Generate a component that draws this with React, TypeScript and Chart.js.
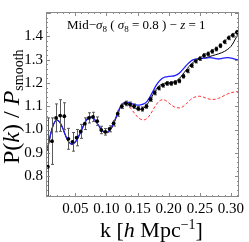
import React, { useEffect, useRef } from "react";
import { Chart, registerables } from "chart.js";

Chart.register(...registerables);

// ---- data ----
const K_CURVE = [
  0.005, 0.010, 0.015, 0.020, 0.025, 0.030, 0.035, 0.040, 0.045, 0.050,
  0.055, 0.060, 0.065, 0.070, 0.075, 0.080, 0.085, 0.090, 0.095, 0.100,
  0.105, 0.110, 0.115, 0.120, 0.125, 0.130, 0.135, 0.140, 0.145, 0.150,
  0.155, 0.160, 0.165, 0.170, 0.175, 0.180, 0.185, 0.190, 0.195, 0.200,
  0.205, 0.210, 0.215, 0.220, 0.225, 0.230, 0.235, 0.240, 0.245, 0.250,
  0.255, 0.260, 0.265, 0.270, 0.275, 0.280, 0.285, 0.290, 0.295, 0.300,
  0.305, 0.310, 0.313,
];

const BLUE = [
  0.91, 0.975, 1.022, 1.04, 1.032, 1.005, 0.97, 0.945, 0.937, 0.946,
  0.968, 0.997, 1.027, 1.047, 1.053, 1.046, 1.028, 1.007, 0.992, 0.988,
  0.996, 1.018, 1.05, 1.085, 1.108, 1.118, 1.117, 1.112, 1.107, 1.105,
  1.106, 1.11, 1.12, 1.14, 1.165, 1.19, 1.208, 1.22, 1.226, 1.228,
  1.229, 1.232, 1.238, 1.25, 1.265, 1.28, 1.292, 1.3, 1.304, 1.306,
  1.307, 1.307, 1.309, 1.308, 1.305, 1.303, 1.305, 1.308, 1.309, 1.307,
  1.304, 1.3, 1.297,
];

const BLACK = [
  0.91, 0.975, 1.022, 1.04, 1.032, 1.005, 0.97, 0.945, 0.937, 0.946,
  0.968, 0.997, 1.027, 1.047, 1.053, 1.046, 1.028, 1.007, 0.992, 0.987,
  0.994, 1.015, 1.047, 1.082, 1.105, 1.113, 1.11, 1.102, 1.093, 1.087,
  1.086, 1.092, 1.106, 1.127, 1.151, 1.173, 1.188, 1.196, 1.199, 1.2,
  1.202, 1.206, 1.214, 1.228, 1.245, 1.262, 1.278, 1.29, 1.298, 1.303,
  1.306, 1.309, 1.313, 1.317, 1.321, 1.325, 1.33, 1.336, 1.345, 1.357,
  1.378, 1.403, 1.42,
];

const RED = [
  0.91, 0.975, 1.022, 1.04, 1.032, 1.005, 0.97, 0.945, 0.937, 0.946,
  0.968, 0.997, 1.027, 1.047, 1.053, 1.046, 1.026, 1.004, 0.989, 0.984,
  0.992, 1.014, 1.046, 1.08, 1.103, 1.108, 1.102, 1.088, 1.07, 1.054,
  1.044, 1.041, 1.047, 1.063, 1.085, 1.107, 1.122, 1.128, 1.125, 1.115,
  1.104, 1.096, 1.093, 1.094, 1.102, 1.115, 1.128, 1.137, 1.142, 1.143,
  1.14, 1.135, 1.131, 1.129, 1.13, 1.134, 1.14, 1.147, 1.153, 1.158,
  1.161, 1.163, 1.164,
];

const K_DATA = [
  0.0060, 0.0126, 0.0192, 0.0258, 0.0324, 0.0390, 0.0456, 0.0522, 0.0588, 0.0654,
  0.0720, 0.0786, 0.0852, 0.0918, 0.0984, 0.1050, 0.1116, 0.1182, 0.1248, 0.1314,
  0.1380, 0.1446, 0.1512, 0.1578, 0.1644, 0.1710, 0.1776, 0.1842, 0.1908, 0.1974,
  0.2040, 0.2106, 0.2172, 0.2238, 0.2304, 0.2370, 0.2436, 0.2502, 0.2568, 0.2634,
  0.2700, 0.2766, 0.2832, 0.2898, 0.2964, 0.3030, 0.3096,
];

const P_DATA = [
  0.84, 0.95, 1.05, 1.06, 1.057, 0.96, 0.947, 0.965, 0.992, 1.025,
  1.05, 1.054, 1.036, 0.998, 0.99, 1.003, 1.027, 1.068, 1.1, 1.112,
  1.108, 1.1, 1.09, 1.088, 1.1, 1.13, 1.158, 1.178, 1.19, 1.198,
  1.198, 1.202, 1.209, 1.229, 1.252, 1.275, 1.294, 1.305, 1.318, 1.325,
  1.336, 1.346, 1.36, 1.377, 1.394, 1.405, 1.418,
];

const P_ERR = [
  0.21, 0.1, 0.06, 0.068, 0.058, 0.045, 0.04, 0.035, 0.03, 0.025,
  0.022, 0.02, 0.018, 0.016, 0.014, 0.013, 0.012, 0.011, 0.01, 0.01,
  0.01, 0.01, 0.009, 0.009, 0.009, 0.009, 0.009, 0.008, 0.008, 0.008,
  0.008, 0.008, 0.008, 0.008, 0.008, 0.008, 0.008, 0.008, 0.008, 0.008,
  0.008, 0.008, 0.008, 0.008, 0.008, 0.008, 0.008,
];

const X_TICKS = [0.05, 0.1, 0.15, 0.2, 0.25, 0.3];
const Y_TICKS = [0.8, 0.9, 1.0, 1.1, 1.2, 1.3, 1.4];

const ANNOTATION = [
  { t: "Mid\u2212" },
  { t: "\u03c3", s: "i" },
  { t: "8", s: "sub" },
  { t: " ( " },
  { t: "\u03c3", s: "i" },
  { t: "8", s: "sub" },
  { t: " = 0.8 ) \u2212 " },
  { t: "z", s: "i" },
  { t: " = 1" },
];
const X_TITLE = [
  { t: "k [" },
  { t: "h", s: "i" },
  { t: " Mpc" },
  { t: "\u22121", s: "sup" },
  { t: "]" },
];
const Y_TITLE = [
  { t: "P(" },
  { t: "k", s: "i" },
  { t: ") / " },
  { t: "P", s: "i" },
  { t: "smooth", s: "sub" },
];

const SERIF = '"Liberation Serif", "DejaVu Serif", serif';

type Piece = { t: string; s?: string };

function drawPieces(
  ctx: CanvasRenderingContext2D,
  pieces: Piece[],
  x: number,
  y: number,
  size: number,
  small: number,
  subShift: number,
  supShift: number
) {
  let cx = x;
  ctx.textBaseline = "alphabetic";
  ctx.textAlign = "left";
  for (const p of pieces) {
    let font = `${size}px ${SERIF}`;
    let dy = 0;
    if (p.s === "i") font = `italic ${size}px ${SERIF}`;
    if (p.s === "sub") {
      font = `${small}px ${SERIF}`;
      dy = subShift;
    }
    if (p.s === "sup") {
      font = `${small}px ${SERIF}`;
      dy = -supShift;
    }
    ctx.font = font;
    ctx.fillText(p.t, cx, y + dy);
    cx += ctx.measureText(p.t).width;
  }
}

const errorBarPlugin = {
  id: "errorBars",
  beforeDatasetDraw(chart: any, args: any) {
    if (args.index !== 0) return;
    const { ctx, chartArea: a, scales } = chart;
    const xs = scales.x;
    const ys = scales.y;
    ctx.save();
    ctx.beginPath();
    ctx.rect(a.left, a.top, a.right - a.left, a.bottom - a.top);
    ctx.clip();
    ctx.strokeStyle = "#5a5a5a";
    ctx.lineWidth = 1;
    for (let i = 0; i < K_DATA.length; i++) {
      const px = Math.round(xs.getPixelForValue(K_DATA[i])) + 0.5;
      const top = ys.getPixelForValue(P_DATA[i] + P_ERR[i]);
      const bot = ys.getPixelForValue(P_DATA[i] - P_ERR[i]);
      ctx.beginPath();
      ctx.moveTo(px, top);
      ctx.lineTo(px, bot);
      ctx.moveTo(px - 1.5, top);
      ctx.lineTo(px + 1.5, top);
      ctx.moveTo(px - 1.5, bot);
      ctx.lineTo(px + 1.5, bot);
      ctx.stroke();
    }
    ctx.restore();
  },
};

const framePlugin = {
  id: "frameAndText",
  afterDraw(chart: any) {
    const { ctx, chartArea: a, scales } = chart;
    const xs = scales.x;
    const ys = scales.y;
    ctx.save();
    ctx.strokeStyle = "#8a8a8a";
    ctx.lineWidth = 1;
    ctx.strokeRect(a.left + 0.5, a.top + 0.5, a.right - a.left - 1, a.bottom - a.top - 1);
    ctx.beginPath();
    for (let i = 1; i <= 31; i++) {
      const v = i * 0.01;
      const px = Math.round(xs.getPixelForValue(v)) + 0.5;
      if (px < a.left || px > a.right) continue;
      const len = i % 5 === 0 ? 4 : 2;
      ctx.moveTo(px, a.bottom);
      ctx.lineTo(px, a.bottom - len);
      ctx.moveTo(px, a.top);
      ctx.lineTo(px, a.top + len);
    }
    for (let i = 36; i <= 75; i++) {
      const v = i * 0.02;
      const py = Math.round(ys.getPixelForValue(v)) + 0.5;
      if (py < a.top || py > a.bottom) continue;
      const len = i % 5 === 0 ? 4 : 2;
      ctx.moveTo(a.left, py);
      ctx.lineTo(a.left + len, py);
      ctx.moveTo(a.right, py);
      ctx.lineTo(a.right - len, py);
    }
    ctx.stroke();

    ctx.fillStyle = "#000";
    drawPieces(ctx, ANNOTATION, 67, 29, 13, 9, 3, 0);
    drawPieces(ctx, X_TITLE, 100, 237, 22, 14, 0, 8);

    ctx.save();
    ctx.translate(19, 164);
    ctx.rotate(-Math.PI / 2);
    drawPieces(ctx, Y_TITLE, 0, 0, 24, 14, 4, 0);
    ctx.restore();
    ctx.restore();
  },
};

export default function App() {
  const ref = useRef<HTMLCanvasElement | null>(null);

  useEffect(() => {
    document.body.style.margin = "0";
    const canvas = ref.current;
    if (!canvas) return;
    const curve = (vals: number[]) => K_CURVE.map((k, i) => ({ x: k, y: vals[i] }));
    const chart = new Chart(canvas, {
      type: "scatter",
      data: {
        datasets: [
          {
            data: K_DATA.map((k, i) => ({ x: k, y: P_DATA[i] })),
            backgroundColor: "#000",
            borderColor: "#000",
            pointRadius: 1.9,
            pointBorderWidth: 0,
            showLine: false,
            order: 0,
          },
          {
            data: curve(BLUE),
            showLine: true,
            borderColor: "#1f1fff",
            borderWidth: 1.3,
            pointRadius: 0,
            tension: 0.35,
            order: 1,
          },
          {
            data: curve(BLACK),
            showLine: true,
            borderColor: "#000",
            borderWidth: 1,
            pointRadius: 0,
            tension: 0.35,
            order: 2,
          },
          {
            data: curve(RED),
            showLine: true,
            borderColor: "#ff3030",
            borderWidth: 1,
            borderDash: [3, 2],
            pointRadius: 0,
            tension: 0.35,
            order: 3,
          },
        ],
      },
      options: {
        animation: false,
        responsive: false,
        devicePixelRatio: 1,
        events: [],
        layout: { padding: { left: 0, top: 5, right: 10, bottom: 0 } },
        plugins: {
          legend: { display: false },
          tooltip: { enabled: false },
          title: { display: false },
        },
        scales: {
          x: {
            type: "linear",
            min: 0.003,
            max: 0.313,
            grid: { display: false, drawTicks: false },
            border: { display: false },
            ticks: {
              font: { family: SERIF, size: 15 },
              color: "#000",
              padding: 3,
              maxRotation: 0,
              autoSkip: false,
              callback: (v: any) => Number(v).toFixed(2),
            },
            afterBuildTicks: (s: any) => {
              s.ticks = X_TICKS.map((v) => ({ value: v }));
            },
            afterFit: (s: any) => {
              s.height = 45;
            },
          },
          y: {
            type: "linear",
            min: 0.71,
            max: 1.505,
            grid: { display: false, drawTicks: false },
            border: { display: false },
            ticks: {
              font: { family: SERIF, size: 15 },
              color: "#000",
              padding: 3,
              autoSkip: false,
              callback: (v: any) => Number(v).toFixed(1),
            },
            afterBuildTicks: (s: any) => {
              s.ticks = Y_TICKS.map((v) => ({ value: v }));
            },
            afterFit: (s: any) => {
              s.width = 46;
            },
          },
        },
      },
      plugins: [errorBarPlugin, framePlugin],
    } as any);
    return () => chart.destroy();
  }, []);

  return (
    <div style={{ width: 249, height: 242, background: "#fff" }}>
      <canvas ref={ref} width={249} height={242} style={{ display: "block" }} />
    </div>
  );
}
